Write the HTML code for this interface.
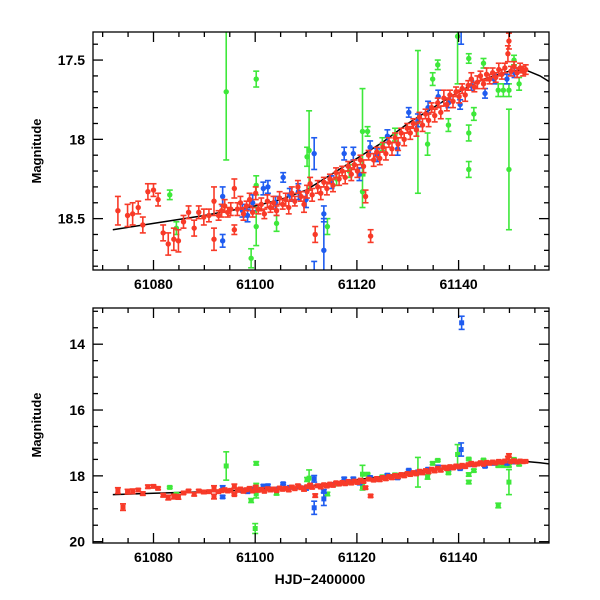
<!DOCTYPE html>
<html><head><meta charset="utf-8"><style>
html,body{margin:0;padding:0;background:#fff}
svg{display:block}
text{font-family:"Liberation Sans",sans-serif;font-weight:bold;fill:#000}
</style></head><body>
<svg id="chart" width="600" height="600" viewBox="0 0 600 600">
<defs>
<clipPath id="clipTop"><rect x="93" y="32" width="456" height="238"/></clipPath>
<clipPath id="clipBot"><rect x="93" y="308" width="456" height="235"/></clipPath>
</defs>
<g id="top"></g>
<g id="bot"></g>
<text x="320" y="584" text-anchor="middle" font-size="14">HJD−2400000</text>
<text transform="translate(41,151) rotate(-90)" text-anchor="middle" font-size="13">Magnitude</text>
<text transform="translate(41,425) rotate(-90)" text-anchor="middle" font-size="13">Magnitude</text>
</svg>
<script>
const xTickLabels=[61080,61100,61120,61140];
const topYTickLabels=[17.5,18,18.5];
const botYTickLabels=[14,16,18,20];
const modelT=[61072,61080,61090,61100,61105,61110,61115,61120,61125,61130,61135,61140,61145,61150,61153,61156,61160];
const modelM=[18.57,18.53,18.48,18.42,18.38,18.32,18.22,18.12,18.02,17.90,17.80,17.70,17.62,17.57,17.56,17.60,17.68];
const redPts=[[61073.0,18.45,0.09],[61074.0,18.95,0.1],[61074.9,18.48,0.07],[61075.9,18.47,0.07],[61077.0,18.43,0.04],[61077.9,18.54,0.05],[61078.9,18.33,0.05],[61080.0,18.32,0.04],[61080.9,18.38,0.04],[61081.9,18.59,0.05],[61082.9,18.66,0.07],[61084.0,18.63,0.07],[61084.9,18.64,0.07],[61085.9,18.52,0.04],[61086.9,18.46,0.04],[61088.0,18.56,0.05],[61088.9,18.46,0.04],[61089.9,18.49,0.05],[61090.9,18.48,0.04],[61091.9,18.39,0.09],[61091.9,18.63,0.07],[61092.8,18.48,0.03],[61093.4,18.45,0.04],[61094.0,18.42,0.04],[61094.6,18.46,0.03],[61095.2,18.44,0.04],[61095.9,18.31,0.06],[61095.9,18.57,0.03],[61096.5,18.44,0.04],[61097.1,18.40,0.04],[61097.7,18.47,0.04],[61098.3,18.42,0.03],[61098.9,18.38,0.04],[61099.5,18.46,0.03],[61100.1,18.34,0.04],[61100.6,18.44,0.03],[61101.2,18.41,0.04],[61101.8,18.47,0.03],[61102.4,18.39,0.04],[61103.0,18.43,0.03],[61103.6,18.40,0.04],[61104.2,18.45,0.03],[61104.8,18.37,0.04],[61105.4,18.41,0.03],[61106.0,18.38,0.04],[61106.6,18.43,0.04],[61107.2,18.34,0.04],[61107.8,18.39,0.03],[61108.4,18.30,0.04],[61109.0,18.36,0.03],[61109.6,18.41,0.05],[61110.2,18.33,0.04],[61110.8,18.28,0.04],[61111.2,18.35,0.04],[61111.8,18.60,0.05],[61112.3,18.30,0.04],[61112.9,18.34,0.04],[61113.5,18.27,0.03],[61114.1,18.31,0.04],[61114.7,18.25,0.03],[61115.3,18.29,0.04],[61115.9,18.21,0.03],[61116.5,18.25,0.04],[61117.1,18.20,0.03],[61117.7,18.24,0.04],[61118.3,18.17,0.03],[61118.9,18.22,0.04],[61119.5,18.16,0.03],[61120.1,18.20,0.04],[61120.7,18.13,0.03],[61121.3,18.17,0.04],[61121.7,18.36,0.04],[61122.3,18.10,0.03],[61122.7,18.61,0.04],[61123.3,18.13,0.04],[61123.9,18.08,0.03],[61124.5,18.12,0.04],[61125.1,18.05,0.03],[61125.7,18.09,0.04],[61126.3,18.02,0.03],[61126.9,18.06,0.04],[61127.5,17.99,0.03],[61128.1,18.03,0.04],[61128.7,17.96,0.03],[61129.3,18.00,0.04],[61129.9,17.93,0.03],[61130.5,17.96,0.04],[61131.1,17.90,0.03],[61131.7,17.94,0.04],[61132.3,17.86,0.03],[61132.9,17.91,0.04],[61133.5,17.84,0.03],[61134.1,17.88,0.04],[61134.7,17.80,0.03],[61135.3,17.85,0.04],[61135.9,17.77,0.03],[61136.5,17.83,0.04],[61137.1,17.74,0.05],[61137.7,17.78,0.04],[61138.3,17.72,0.03],[61138.9,17.76,0.04],[61139.5,17.70,0.03],[61140.1,17.73,0.04],[61140.7,17.68,0.03],[61141.3,17.72,0.04],[61141.9,17.66,0.03],[61142.5,17.62,0.04],[61143.1,17.67,0.03],[61143.7,17.64,0.04],[61144.3,17.60,0.03],[61144.9,17.65,0.03],[61145.5,17.59,0.04],[61146.1,17.62,0.03],[61146.7,17.58,0.03],[61147.3,17.61,0.03],[61147.9,17.56,0.04],[61148.5,17.59,0.03],[61149.1,17.55,0.03],[61149.7,17.46,0.05],[61149.9,17.38,0.05],[61150.3,17.57,0.03],[61150.9,17.54,0.03],[61151.5,17.58,0.03],[61152.1,17.55,0.03],[61152.7,17.57,0.03],[61153.2,17.56,0.03]];
const bluePts=[[61093.6,18.36,0.06],[61093.6,18.64,0.04],[61097.5,18.45,0.04],[61098.5,18.48,0.04],[61099.5,18.40,0.05],[61101.6,18.31,0.04],[61102.5,18.30,0.04],[61104.0,18.40,0.04],[61105.5,18.24,0.03],[61106.8,18.35,0.04],[61108.5,18.33,0.05],[61110.0,18.38,0.05],[61111.6,18.09,0.10],[61111.6,18.97,0.20],[61113.5,18.47,0.05],[61113.5,18.70,0.20],[61115.0,18.27,0.04],[61117.5,18.09,0.04],[61119.3,18.09,0.04],[61120.5,18.22,0.04],[61122.6,18.05,0.04],[61124.0,18.10,0.04],[61126.0,17.98,0.04],[61128.0,18.06,0.04],[61130.2,17.83,0.03],[61132.0,17.88,0.04],[61134.0,17.80,0.04],[61136.0,17.73,0.04],[61138.0,17.77,0.03],[61140.3,17.78,0.03],[61140.5,17.2,0.2],[61140.6,13.35,0.2],[61142.5,17.66,0.03],[61145.2,17.71,0.03],[61147.0,17.62,0.03],[61149.5,17.62,0.03],[61151.0,17.58,0.03]];
const greenPts=[[61083.2,18.35,0.03],[61084.5,18.56,0.04],[61094.3,17.70,0.43],[61100.2,17.62,0.05],[61100.2,18.29,0.06],[61100.2,18.55,0.12],[61099.2,18.75,0.06],[61100.0,19.60,0.15],[61104.2,18.53,0.05],[61110.2,18.11,0.06],[61110.6,18.07,0.25],[61114.2,18.55,0.05],[61116.0,18.25,0.04],[61118.5,18.20,0.04],[61121.1,17.95,0.27],[61121.1,18.33,0.1],[61122.1,17.95,0.03],[61125.0,18.03,0.04],[61127.5,17.97,0.04],[61132.0,17.89,0.45],[61133.9,18.03,0.07],[61134.9,17.62,0.04],[61135.9,17.53,0.03],[61138.0,17.91,0.04],[61139.8,17.35,0.3],[61142.0,17.49,0.03],[61142.0,17.96,0.05],[61142.0,18.19,0.05],[61143.0,17.84,0.04],[61144.9,17.52,0.03],[61147.8,17.69,0.04],[61148.8,17.69,0.04],[61149.9,18.19,0.38],[61149.9,17.69,0.04],[61151.9,17.65,0.04],[61150.9,17.50,0.03],[61147.8,18.90,0.07]];

const NS='http://www.w3.org/2000/svg';
const L=93,R=549;
const X0=61080,PXD=5.085,X0P=153.5;
function xs(t){return X0P+(t-X0)*PXD;}
function mk(tag,attrs,parent){const e=document.createElementNS(NS,tag);for(const k in attrs)e.setAttribute(k,attrs[k]);parent.appendChild(e);return e;}

function panel(g,T,B,mTop,mBot,yMinor,yMajor,yLabels,clip,square){
  const ys=m=>T+(m-mTop)/(mBot-mTop)*(B-T);
  const data=mk('g',{'clip-path':'url(#'+clip+')'},g);
  
  
  // model curve
  let d='';modelT.forEach((t,i)=>{d+=(i?'L':'M')+xs(t).toFixed(1)+','+ys(modelM[i]).toFixed(1);});
  const c=mk('path',{d:d,fill:'none',stroke:'#000','stroke-width':1.5},data);
  
  
  const series=[[greenPts,'#3ee83a','green'],[bluePts,'#1f5cf0','blue'],[redPts,'#f83a28','red']];
  series.forEach(([pts,col,nm])=>{
    const sg=mk('g',{},data);
    
    
    pts.forEach(p=>{
      const x=xs(p[0]),y=ys(p[1]),y1=ys(p[1]-p[2]),y2=ys(p[1]+p[2]);
      const pg=mk('g',{stroke:col,fill:col,'stroke-width':1.6},sg);
      
      
      mk('line',{x1:x,x2:x,y1:y1,y2:y2},pg);
      mk('line',{x1:x-3,x2:x+3,y1:y1,y2:y1},pg);
      mk('line',{x1:x-3,x2:x+3,y1:y2,y2:y2},pg);
      if(square) mk('rect',{x:x-2.5,y:y-2.5,width:5,height:5,stroke:'none'},pg);
      else mk('circle',{cx:x,cy:y,r:2.7,stroke:'none'},pg);
    });
  });
  const fr=mk('rect',{x:L,y:T,width:R-L,height:B-T,fill:'none',stroke:'#000','stroke-width':1.3},g);
  
  
  const tk=mk('g',{stroke:'#000','stroke-width':1.3},g);
  
  
  for(let t=61070;t<=61155;t+=5){const x=xs(t);if(x<L||x>R)continue;const len=(t%20===0)?10:5;
    mk('line',{x1:x,x2:x,y1:B,y2:B-len},tk);mk('line',{x1:x,x2:x,y1:T,y2:T+len},tk);}
  const n=Math.round((mBot-mTop)/yMinor);
  const start=Math.ceil(mTop/yMinor-1e-6)*yMinor;
  for(let m=start;m<=mBot+1e-6;m+=yMinor){const y=ys(m);const maj=Math.abs(m/yMajor-Math.round(m/yMajor))<1e-3;const len=maj?10:5;
    mk('line',{x1:L,x2:L+len,y1:y,y2:y},tk);mk('line',{x1:R,x2:R-len,y1:y,y2:y},tk);}
  yLabels.forEach(v=>{const t=mk('text',{x:L-8,y:ys(v)+5,'text-anchor':'end','font-size':14},g);t.textContent=String(v);
    
    });
  return ys;
}
const topG=document.getElementById('top'),botG=document.getElementById('bot');
panel(topG,32,270,17.323,18.824,0.1,0.5,topYTickLabels,'clipTop',false);
panel(botG,308,543,12.9,20.04,0.5,2,botYTickLabels,'clipBot',true);
xTickLabels.forEach(v=>{
  [[topG,289],[botG,562]].forEach(([g,y])=>{
    const t=mk('text',{x:xs(v),y:y,'text-anchor':'middle','font-size':14},g);t.textContent=String(v);
    
    
  });
});
</script>
</body></html>
